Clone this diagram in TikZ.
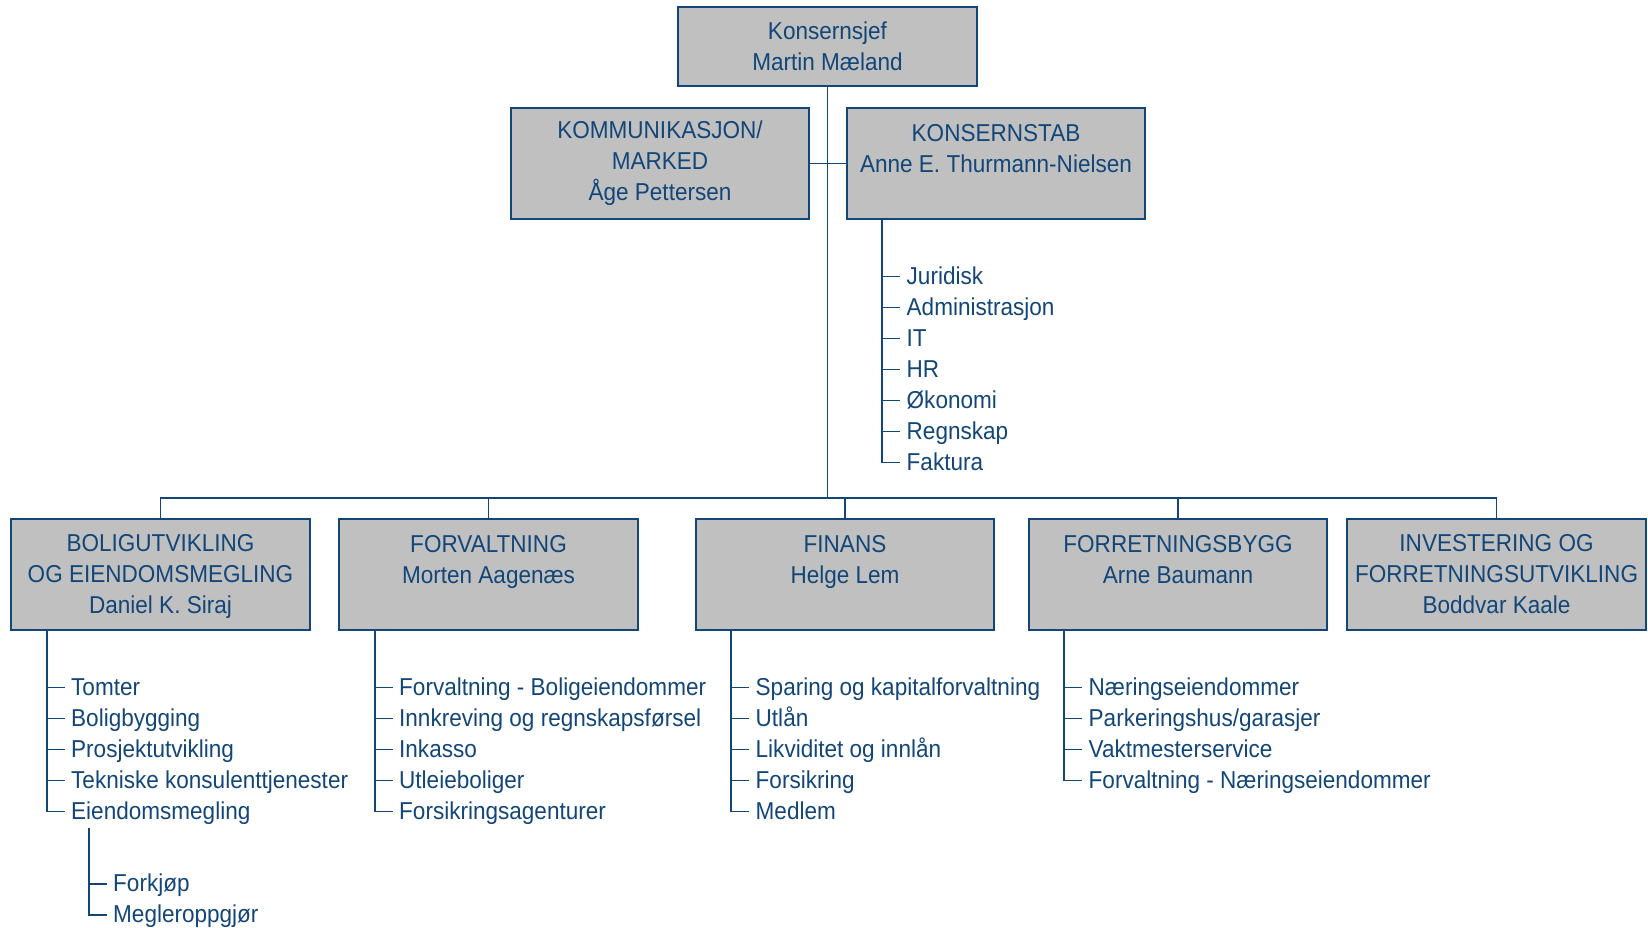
\documentclass[tikz,border=0pt]{standalone}
\usepackage{fontspec}
\setmainfont[FakeStretch=0.923]{Liberation Sans}
\usetikzlibrary{trees}
\definecolor{orgblue}{RGB}{18,70,120}
\definecolor{orggray}{RGB}{192,192,192}
\tikzstyle{every node}=[text=orgblue,font=\fontsize{13.9pt}{17.6pt}\selectfont]
\tikzstyle{orgline}=[draw=orgblue,line width=1.1pt]
\tikzstyle{orgbox}=[draw=orgblue,fill=orggray,line width=1.1pt,minimum width=170pt,minimum height=63.2pt,align=center,inner sep=0pt]
\tikzstyle{topbox}=[orgbox,minimum height=45pt]

\begin{document}
\begin{tikzpicture}[x=0.02cm,y=-0.02cm,
          every child node/.style={anchor=west,inner xsep=3.5pt,inner ysep=0pt,text height=11pt,text depth=2pt},
          edge from parent/.style={orgline},
          level 1/.style={grow via three points={one child at (18,56.5) and
          two children at (18,56.5) and (18,87.5)},
          edge from parent path={(\tikzparentnode) |- (\tikzchildnode.west)}}]
  \useasboundingbox (0,0) rectangle (1648,927);

  % ledelse
  \node[topbox] (chief) at (827.5,46.5) {Konsernsjef\\Martin Mæland};
  \node[orgbox] (komm) at (660,163.5) {KOMMUNIKASJON/\\MARKED\\Åge Pettersen};
  \node[orgbox] (stab) at (996,163.5) {KONSERNSTAB\\Anne E. Thurmann-Nielsen\\\mbox{}};

  % divisjoner
  \node[orgbox] (bolig) at (160.5,574.5) {BOLIGUTVIKLING\\OG EIENDOMSMEGLING\\Daniel K. Sira\smash{j}};
  \node[orgbox] (forv) at (488.5,574.5) {FORVALTNING\\Morten Aagenæs\\\mbox{}};
  \node[orgbox] (finans) at (845,574.5) {FINANS\\Helge Lem\\\mbox{}};
  \node[orgbox] (forret) at (1178,574.5) {FORRETNINGSBYGG\\Arne Baumann\\\mbox{}};
  \node[orgbox] (invest) at (1496.5,574.5) {INVESTERING OG\\FORRETNINGSUTVIKLING\\Boddvar Kaale};

  \coordinate (bus) at (827.5,498);
  \draw[orgline] (chief) -- (bus);
  \draw[orgline] (komm) -- (stab);
  \foreach \unit in {bolig,forv,finans,forret,invest}
    \draw[orgline] (bus) -| (\unit);

  % avdelinger
  \node[coordinate] (stab-root) at ([shift={(36.5,0)}]stab.south west) {}
    child { node {Juridisk}}
    child { node {Administrasjon}}
    child { node {IT}}
    child { node {HR}}
    child { node {Økonomi}}
    child { node {Regnskap}}
    child { node {Faktura}};
  \node[coordinate] (bolig-root) at ([shift={(36.5,0)}]bolig.south west) {}
    child { node {Tomter}}
    child { node {Boligbygging}}
    child { node {Prosjektutvikling}}
    child { node {Tekniske konsulenttjenester}}
    child { node (megling) {Eiendomsmegling}};
  \node[coordinate] (megling-root) at ([shift={(24,16)}]megling.west) {}
    child { node {Forkjøp}}
    child { node {Megleroppgjør}};
  \node[coordinate] (forv-root) at ([shift={(36.5,0)}]forv.south west) {}
    child { node {Forvaltning - Boligeiendommer}}
    child { node {Innkreving og regnskapsførsel}}
    child { node {Inkasso}}
    child { node {Utleieboliger}}
    child { node {Forsikringsagenturer}};
  \node[coordinate] (finans-root) at ([shift={(36.5,0)}]finans.south west) {}
    child { node {Sparing og kapitalforvaltning}}
    child { node {Utlån}}
    child { node {Likviditet og innlån}}
    child { node {Forsikring}}
    child { node {Medlem}};
  \node[coordinate] (forret-root) at ([shift={(36.5,0)}]forret.south west) {}
    child { node {Næringseiendommer}}
    child { node {Parkeringshus/garasjer}}
    child { node {Vaktmesterservice}}
    child { node {Forvaltning - Næringseiendommer}};
\end{tikzpicture}
\end{document}
